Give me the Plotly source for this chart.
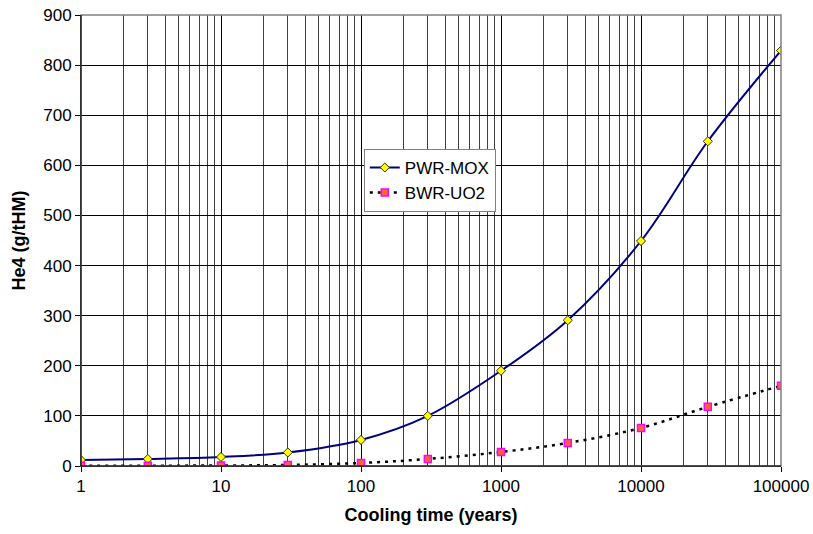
import plotly.graph_objects as go

cooling_time = [1, 3, 10, 30, 100, 300, 1000, 3000, 10000, 30000, 100000]
pwr_mox = [12, 14, 18, 27, 52, 100, 190, 291, 449, 648, 829]
bwr_uo2 = [0.5, 0.6, 1, 2, 6, 14, 28, 46, 76, 118, 160]
x_tickvals = [1, 10, 100, 1000, 10000, 100000]
x_ticktext = ["1", "10", "100", "1000", "10000", "100000"]

fig = go.Figure()
fig.add_trace(go.Scatter(
    x=cooling_time, y=pwr_mox, name="PWR-MOX", mode="lines+markers",
    line=dict(color="#000080", width=2, shape="spline"),
    marker=dict(symbol="diamond", size=7, color="#FFFF00", line=dict(color="#333300", width=1)),
))
fig.add_trace(go.Scatter(
    x=cooling_time, y=bwr_uo2, name="BWR-UO2", mode="lines+markers",
    line=dict(color="#000000", width=2.5, dash="3px,5px", shape="spline"),
    marker=dict(symbol="square", size=7, color="#FF6633", line=dict(color="#FF00FF", width=1.5)),
))

font = "Liberation Sans, Arial, sans-serif"
fig.update_layout(
    width=813, height=534,
    margin=dict(l=81, r=32, t=15, b=68, autoexpand=False),
    paper_bgcolor="white", plot_bgcolor="white",
    font=dict(family=font, size=17, color="black"),
    showlegend=True,
    legend=dict(x=0.404, y=0.703, xanchor="left", yanchor="top",
                bordercolor="#808080", borderwidth=1, bgcolor="white",
                font=dict(size=17), tracegroupgap=0, itemwidth=30),
    xaxis=dict(type="log", range=[0, 5], tickvals=x_tickvals, ticktext=x_ticktext,
               automargin=False,
               showgrid=True, gridcolor="black", gridwidth=1,
               minor=dict(showgrid=True, gridcolor="#404040", gridwidth=1, dtick="D1",
                          ticks=""),
               showline=True, linecolor="black", linewidth=1, mirror=False,
               ticks="outside", ticklen=5, tickcolor="black",
               tickfont=dict(size=17),
               title=dict(text="<b>Cooling time (years)</b>", font=dict(size=18), standoff=12),
               zeroline=False),
    yaxis=dict(range=[0, 900], dtick=100, showgrid=True, gridcolor="black", gridwidth=1,
               automargin=False,
               showline=True, linecolor="black", linewidth=1,
               ticks="outside", ticklen=5, tickcolor="black",
               tickfont=dict(size=17),
               title=dict(text="<b>He4 (g/tHM)</b>", font=dict(size=18), standoff=12),
               zeroline=False),
)
fig.add_shape(type="rect", xref="paper", yref="paper", x0=0, y0=0, x1=1, y1=1,
              line=dict(color="#808080", width=1.5), layer="above")
fig.add_shape(type="line", xref="paper", yref="paper", x0=0, y0=0, x1=0, y1=1,
              line=dict(color="black", width=1), layer="above")
fig.add_shape(type="line", xref="paper", yref="paper", x0=0, y0=0, x1=1, y1=0,
              line=dict(color="black", width=1), layer="above")

fig.write_html("out.html", config={"displayModeBar": False},
               post_script="document.body.style.margin='0';document.body.style.overflow='hidden';")
